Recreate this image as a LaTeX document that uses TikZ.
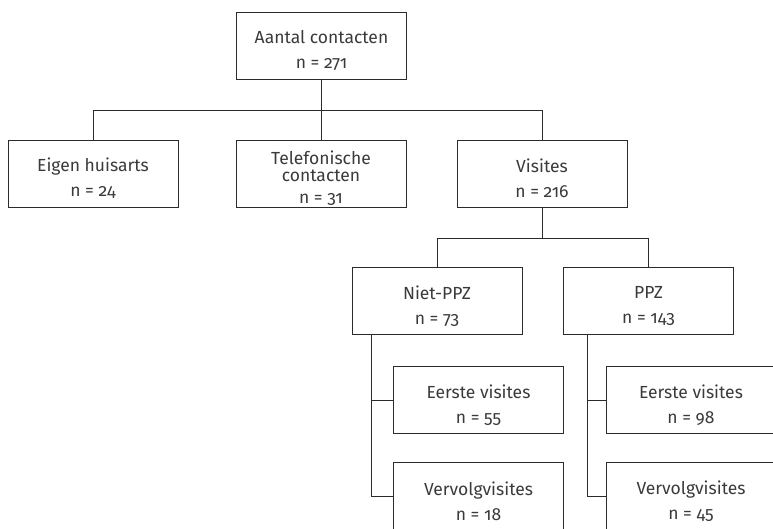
\documentclass[tikz,border=0pt]{standalone}
\usepackage{fontspec}
\setmainfont{Fira Sans}[Numbers=OldStyle]
\definecolor{ink}{HTML}{2B2B2B}
\definecolor{txt}{HTML}{3A3A3A}
\begin{document}
\begin{tikzpicture}[x=1pt,y=-1pt,
  box/.style={draw=ink,line width=1pt,minimum width=170pt,minimum height=67pt,inner sep=0pt},
  lbl/.style={align=center,inner sep=0pt,text=txt,font=\fontsize{17.5}{20}\selectfont},
  wire/.style={draw=ink,line width=1pt}]
\useasboundingbox (0,0) rectangle (773,528);
\clip (0,0) rectangle (773,528);
\node[box] (top) at (321.5,45.5) {};
\node[box] (eigen) at (93,173.5) {};
\node[box] (tel) at (321,173.5) {};
\node[box] (vis) at (542,173.5) {};
\node[box] (niet) at (437,301) {};
\node[box] (ppz) at (648.5,301) {};
\node[box] (eerL) at (478.5,400) {};
\node[box] (verL) at (478.5,496) {};
\node[box] (eerR) at (691,400) {};
\node[box] (verR) at (691,496) {};
\node[lbl] (topT) at ([yshift=-5pt]top.center) {Aantal contacten\\[5pt]n = 271};
\node[lbl] (eigenT) at ([yshift=-5pt]eigen.center) {Eigen huisarts\\[5pt]n = 24};
\node[lbl] (telT) at ([yshift=-5pt]tel.center) {Telefonische\\[-3pt]contacten\\[2pt]n = 31};
\node[lbl] (visT) at ([yshift=-5pt]vis.center) {Visites\\[5pt]n = 216};
\node[lbl] (nietT) at ([yshift=-5pt]niet.center) {Niet-PPZ\\[5pt]n = 73};
\node[lbl] (ppzT) at ([yshift=-5pt]ppz.center) {PPZ\\[5pt]n = 143};
\node[lbl] (eerLT) at ([yshift=-5pt]eerL.center) {Eerste visites\\[5pt]n = 55};
\node[lbl] (verLT) at ([yshift=-5pt]verL.center) {Vervolgvisites\\[5pt]n = 18};
\node[lbl] (eerRT) at ([yshift=-5pt]eerR.center) {Eerste visites\\[5pt]n = 98};
\node[lbl] (verRT) at ([yshift=-5pt]verR.center) {Vervolgvisites\\[5pt]n = 45};
\coordinate (bus1) at (0,110);
\coordinate (bus2) at (0,238);
\draw[wire] (top.south) -- (top.south |- bus1);
\draw[wire] (eigen.north) -- (eigen.north |- bus1) -- (vis.north |- bus1) -- (vis.north);
\draw[wire] (tel.north) -- (tel.north |- bus1);
\draw[wire] (vis.south) -- (vis.south |- bus2);
\draw[wire] (niet.north) -- (niet.north |- bus2) -- (ppz.north |- bus2) -- (ppz.north);
\draw[wire] ([xshift=20pt]niet.south west) |- (verL.west);
\draw[wire] ([xshift=20pt]niet.south west |- eerL.west) -- (eerL.west);
\draw[wire] ([xshift=24pt]ppz.south west) |- (verR.west);
\draw[wire] ([xshift=24pt]ppz.south west |- eerR.west) -- (eerR.west);
\end{tikzpicture}
\end{document}
